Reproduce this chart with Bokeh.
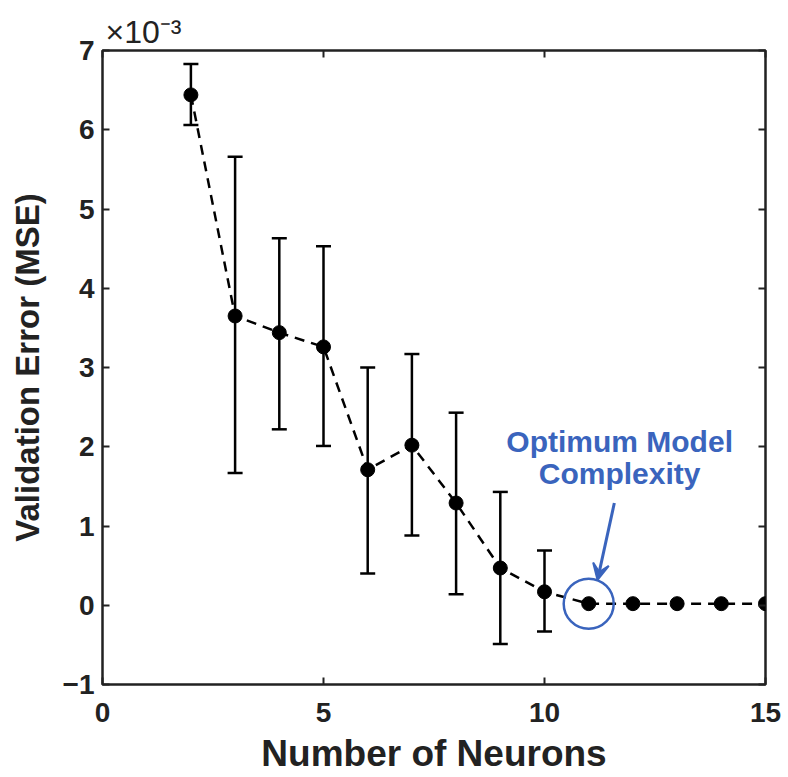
from bokeh.plotting import figure
from bokeh.models import (ColumnDataSource, Whisker, TeeHead, Label, Arrow, VeeHead,
                          LinearAxis, FixedTicker, Range1d)
from bokeh.embed import file_html
from bokeh.resources import INLINE

neurons = [2, 3, 4, 5, 6, 7, 8, 9, 10, 11, 12, 13, 14, 15]
mse = [6.44, 3.65, 3.44, 3.26, 1.71, 2.02, 1.29, 0.47, 0.17, 0.02, 0.02, 0.02, 0.02, 0.02]
err_upper = [6.83, 5.66, 4.63, 4.53, 3.00, 3.17, 2.43, 1.43, 0.69, 0.02, 0.02, 0.02, 0.02, 0.02]
err_lower = [6.06, 1.67, 2.22, 2.01, 0.40, 0.88, 0.14, -0.49, -0.33, 0.02, 0.02, 0.02, 0.02, 0.02]
x_ticks = [0, 5, 10, 15]
y_ticks = [-1, 0, 1, 2, 3, 4, 5, 6, 7]
optimum = 11

FONT = "Liberation Sans"
BLUE = "#3a64bd"
INK = "#222222"

src = ColumnDataSource(dict(x=neurons, y=mse))
err_src = ColumnDataSource(dict(x=neurons[:9], up=err_upper[:9], lo=err_lower[:9]))

p = figure(width=788, height=777, output_backend="svg", toolbar_location=None,
           x_range=Range1d(0, 15), y_range=Range1d(-1, 7),
           title="×10⁻³",
           min_border_left=102, min_border_right=23, min_border_top=50, min_border_bottom=93)
p.title.align = "left"
p.title.offset = 3
p.title.text_font = FONT
p.title.text_font_style = "normal"
p.title.text_font_size = "32px"
p.title.text_color = INK
p.title.standoff = 2
p.background_fill_color = "white"
p.border_fill_color = "white"
p.xgrid.visible = False
p.ygrid.visible = False
p.outline_line_color = INK
p.outline_line_width = 2.5

for ax in (p.xaxis[0], p.yaxis[0]):
    ax.major_tick_in = 7
    ax.major_tick_out = 0
    ax.minor_tick_line_color = None
    ax.axis_line_color = None
    ax.major_tick_line_width = 2
    ax.major_tick_line_color = INK
    ax.major_label_text_font = FONT
    ax.major_label_text_font_style = "bold"
    ax.major_label_text_font_size = "28px"
    ax.major_label_text_color = INK
    ax.axis_label_text_font = FONT
    ax.axis_label_text_font_style = "bold"
    ax.axis_label_text_color = INK
p.xaxis[0].axis_label_text_font_size = "37px"
p.yaxis[0].axis_label_text_font_size = "33px"
p.xaxis[0].ticker = FixedTicker(ticks=x_ticks)
p.yaxis[0].ticker = FixedTicker(ticks=y_ticks)
p.xaxis[0].axis_label = "Number of Neurons"
p.yaxis[0].axis_label = "Validation Error (MSE)"
p.xaxis[0].major_label_standoff = 18
p.yaxis[0].major_label_standoff = 8
p.xaxis[0].axis_label_standoff = 8
p.yaxis[0].axis_label_standoff = 14

for loc, ticks in (("above", x_ticks), ("right", y_ticks)):
    a = LinearAxis(ticker=FixedTicker(ticks=ticks), major_tick_in=7, major_tick_out=0,
                   minor_tick_line_color=None, axis_line_color=None,
                   major_tick_line_width=2, major_tick_line_color=INK,
                   major_label_text_font_size="1px", major_label_text_color=None,
                   major_label_standoff=0)
    p.add_layout(a, loc)

p.line("x", "y", source=src, line_color="black", line_width=2.5, line_dash="10 7")
p.add_layout(Whisker(source=err_src, base="x", upper="up", lower="lo",
                     line_color="black", line_width=2.5,
                     upper_head=TeeHead(size=15, line_width=2.5, line_color="black"),
                     lower_head=TeeHead(size=15, line_width=2.5, line_color="black")))
p.scatter("x", "y", source=src, size=14, color="black")

# optimum circle
p.scatter([optimum], [mse[neurons.index(optimum)]], size=50, fill_color=None,
          line_color=BLUE, line_width=2.5)

p.add_layout(Arrow(end=VeeHead(size=16, line_color=BLUE, fill_color=BLUE, line_width=2),
                   x_start=11.58, y_start=1.29, x_end=11.2, y_end=0.32,
                   line_color=BLUE, line_width=3))
p.add_layout(Label(x=11.7, y=2.06, text="Optimum Model", text_align="center",
                   text_baseline="alphabetic", text_font=FONT, text_font_style="bold",
                   text_font_size="30px", text_color=BLUE))
p.add_layout(Label(x=11.7, y=1.66, text="Complexity", text_align="center",
                   text_baseline="alphabetic", text_font=FONT, text_font_style="bold",
                   text_font_size="30px", text_color=BLUE))

open("out.html", "w").write(file_html(p, INLINE))
